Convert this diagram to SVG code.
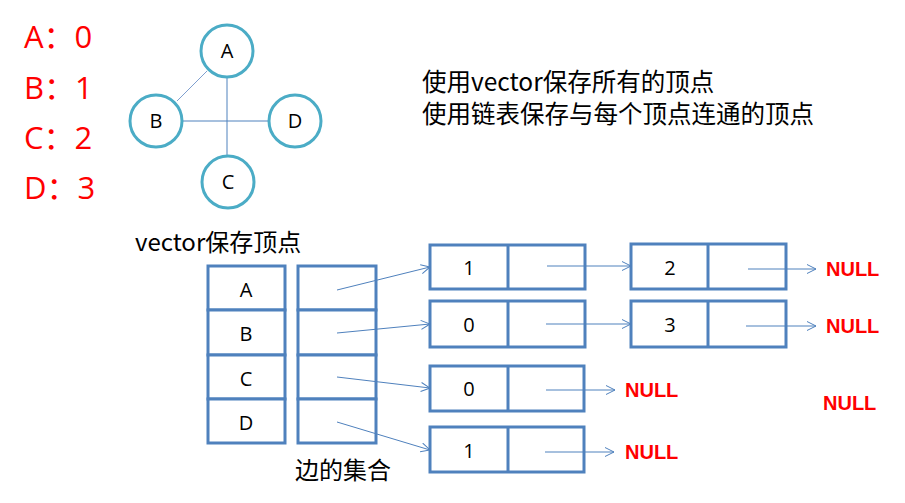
<svg xmlns="http://www.w3.org/2000/svg" width="905" height="503" viewBox="0 0 905 503">
<defs>
<marker id="ah" markerWidth="12" markerHeight="12" refX="10" refY="5" orient="auto" markerUnits="userSpaceOnUse">
<path d="M1,0.5 L10,5 L1,9.5" fill="none" stroke="#4f81bd" stroke-width="1"/>
</marker>
</defs>
<style>
text{font-family:"Open Sans","Noto Sans","Noto Sans CJK SC",sans-serif;}
.red{fill:#ff0000;font-size:31px;}
.circ{fill:#fff;stroke:#4bacc6;stroke-width:3;}
.cl{font-size:20px;fill:#000;text-anchor:middle;}
.box{fill:#fff;stroke:#4f81bd;stroke-width:3;}
.lbl{font-size:20px;fill:#000;text-anchor:middle;}
.cn{font-size:24px;fill:#000;font-family:"Noto Sans CJK SC","Noto Sans",sans-serif;}
.null{font-family:"Liberation Sans",Arial,sans-serif;font-weight:bold;font-size:20px;fill:#ff0000;}
.edge{stroke:#4f81bd;stroke-width:1;fill:none;}
.arr{stroke:#4f81bd;stroke-width:1;fill:none;marker-end:url(#ah);}
</style>
<rect width="905" height="503" fill="#fff"/>
<g id="legend">
<text class="red" x="24" y="48">A：0</text>
<text class="red" x="24" y="99">B：1</text>
<text class="red" x="24" y="149">C：2</text>
<text class="red" x="24" y="199">D：3</text>
</g>
<g id="graph-edges">
<line class="edge" x1="207" y1="71" x2="177" y2="101" stroke="#7f9fcf" style="stroke:#7f9fcf"/>
<line class="edge" x1="227" y1="78" x2="227" y2="155"/>
<line class="edge" x1="183" y1="121" x2="268" y2="121"/>
</g>
<g id="gA"><circle class="circ" cx="227" cy="51" r="26"/><text class="cl" x="227" y="58">A</text></g>
<g id="gB"><circle class="circ" cx="156" cy="121" r="26"/><text class="cl" x="156" y="128">B</text></g>
<g id="gD"><circle class="circ" cx="295" cy="121" r="26"/><text class="cl" x="295" y="128">D</text></g>
<g id="gC"><circle class="circ" cx="228" cy="182" r="26"/><text class="cl" x="228" y="189">C</text></g>
<g id="desc">
<text class="cn" x="422" y="91" style="font-size:24.5px">使用vector保存所有的顶点</text>
<text class="cn" x="422" y="123" style="font-size:24.5px">使用链表保存与每个顶点连通的顶点</text>
</g>
<text class="cn" x="135" y="251">vector保存顶点</text>
<text class="cn" x="295" y="479">边的集合</text>
<g id="vec">
<rect class="box" x="208" y="266" width="77" height="44"/>
<rect class="box" x="208" y="310" width="77" height="45"/>
<rect class="box" x="208" y="355" width="77" height="44"/>
<rect class="box" x="208" y="399" width="77" height="44"/>
<text class="lbl" x="246" y="297">A</text>
<text class="lbl" x="246" y="341">B</text>
<text class="lbl" x="246" y="386">C</text>
<text class="lbl" x="246" y="430">D</text>
</g>
<g id="edgeset">
<rect class="box" x="298" y="266" width="78" height="44"/>
<rect class="box" x="298" y="310" width="78" height="45"/>
<rect class="box" x="298" y="355" width="78" height="44"/>
<rect class="box" x="298" y="399" width="78" height="44"/>
</g>
<g id="n1a"><rect class="box" x="430" y="245" width="155" height="44"/><line class="box" x1="508" y1="245" x2="508" y2="289"/><text class="lbl" x="469" y="275">1</text></g>
<g id="n2a"><rect class="box" x="631" y="244" width="155" height="45"/><line class="box" x1="708" y1="244" x2="708" y2="289"/><text class="lbl" x="670" y="275">2</text></g>
<g id="n1b"><rect class="box" x="430" y="301" width="155" height="46"/><line class="box" x1="508" y1="301" x2="508" y2="347"/><text class="lbl" x="469" y="332">0</text></g>
<g id="n2b"><rect class="box" x="631" y="301" width="155" height="46"/><line class="box" x1="708" y1="301" x2="708" y2="347"/><text class="lbl" x="670" y="332">3</text></g>
<g id="n1c"><rect class="box" x="430" y="366" width="154" height="45"/><line class="box" x1="508" y1="366" x2="508" y2="411"/><text class="lbl" x="469" y="396">0</text></g>
<g id="n1d"><rect class="box" x="430" y="427" width="154" height="45"/><line class="box" x1="508" y1="427" x2="508" y2="472"/><text class="lbl" x="469" y="458">1</text></g>
<g id="nulls">
<text class="null" x="826" y="276">NULL</text>
<text class="null" x="826" y="333">NULL</text>
<text class="null" x="625" y="397">NULL</text>
<text class="null" x="625" y="459">NULL</text>
<text class="null" x="823" y="410">NULL</text>
</g>
<g id="connectors">
<line class="arr" x1="337" y1="290" x2="430" y2="267"/>
<line class="arr" x1="337" y1="333" x2="430" y2="324"/>
<line class="arr" x1="337" y1="377" x2="430" y2="388"/>
<line class="arr" x1="337" y1="422" x2="430" y2="450"/>
<line class="arr" x1="547" y1="266" x2="631" y2="266"/>
<line class="arr" x1="748" y1="269" x2="816" y2="269"/>
<line class="arr" x1="546" y1="324" x2="631" y2="324"/>
<line class="arr" x1="746" y1="326" x2="816" y2="326"/>
<line class="arr" x1="546" y1="390" x2="615" y2="390"/>
<line class="arr" x1="545" y1="452" x2="614" y2="452"/>
</g>
</svg>
